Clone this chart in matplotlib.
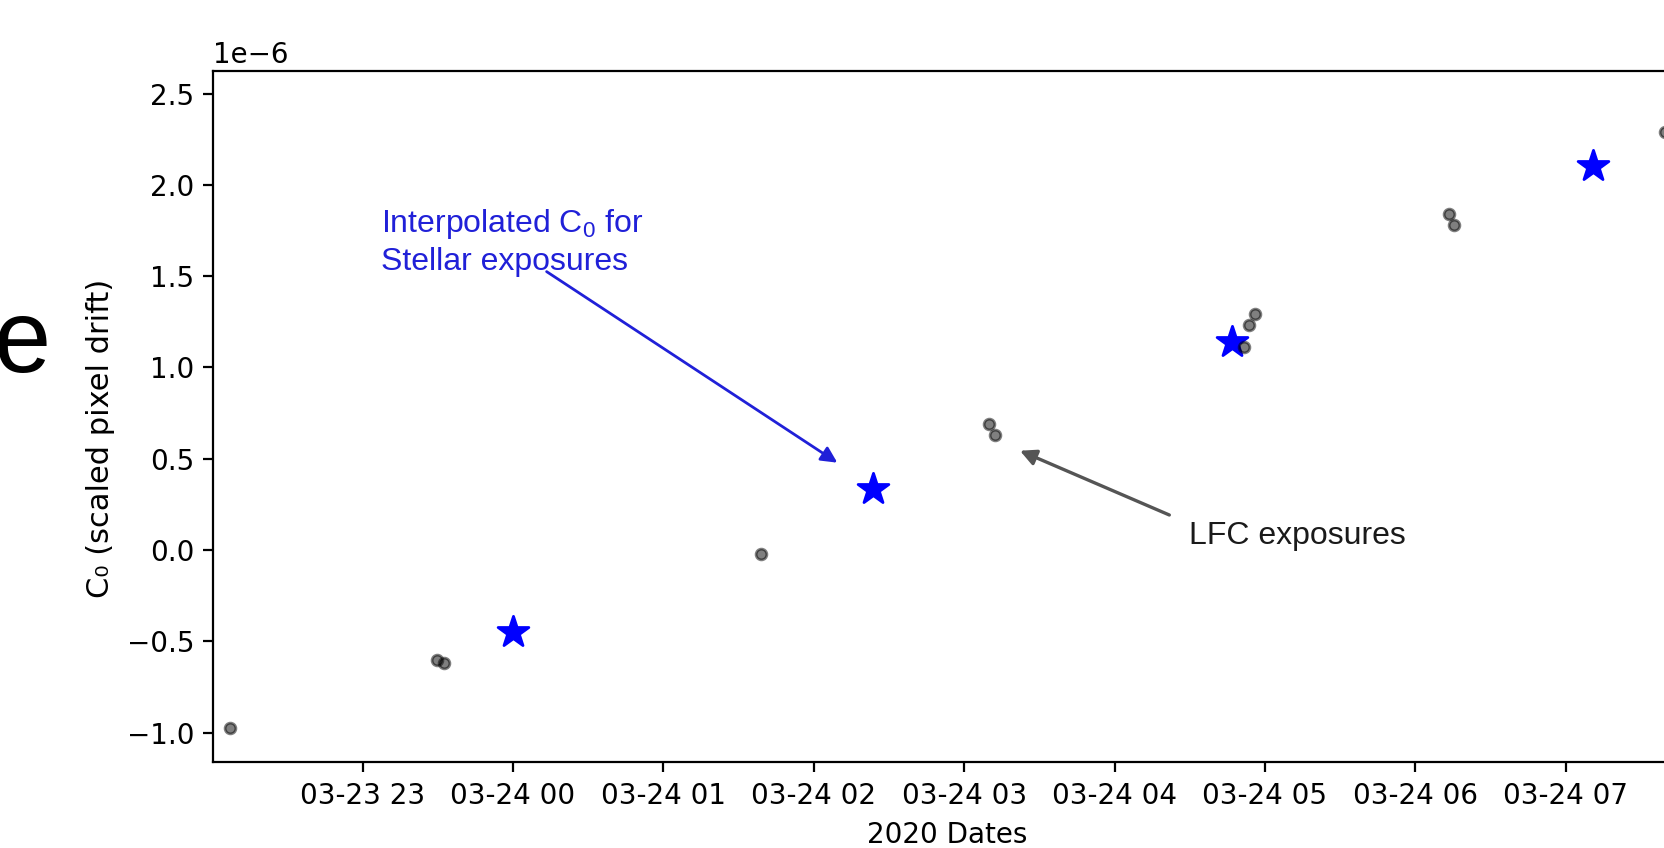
import matplotlib
matplotlib.use("Agg")
import matplotlib.pyplot as plt
import matplotlib.dates as mdates
import pandas as pd

# ---- data (C0 values in units of 1e-6) ----
lfc_times = ["2020-03-23 22:07:00", "2020-03-23 23:29:30", "2020-03-23 23:32:30",
             "2020-03-24 01:39:00", "2020-03-24 03:10:00", "2020-03-24 03:12:30",
             "2020-03-24 04:51:30", "2020-03-24 04:53:40", "2020-03-24 04:56:00",
             "2020-03-24 06:13:20", "2020-03-24 06:15:30", "2020-03-24 07:39:40"]
lfc_c0 = [-0.977, -0.60, -0.62, -0.02, 0.69, 0.63, 1.11, 1.23, 1.29, 1.84, 1.78, 2.29]

star_times = ["2020-03-24 00:00:00", "2020-03-24 02:23:40", "2020-03-24 04:47:00",
              "2020-03-24 07:11:00"]
star_c0 = [-0.448, 0.337, 1.141, 2.103]

x_limits = ["2020-03-23 22:00:30", "2020-03-24 07:46:00"]
y_limits = [-1.163, 2.623]

scale = 1e-6

plt.rcParams["mathtext.fontset"] = "custom"
plt.rcParams["mathtext.rm"] = "Liberation Sans"
plt.rcParams["mathtext.it"] = "Liberation Sans:italic"

fig = plt.figure(figsize=(8.325, 4.24), dpi=200)
ax = fig.add_axes([0.1282, 0.1009, 0.8814, 0.8153])

st = pd.to_datetime(star_times)
lt = pd.to_datetime(lfc_times)
ax.scatter(st, [v * scale for v in star_c0], marker="*", s=135, color="blue", zorder=2)
ax.scatter(lt, [v * scale for v in lfc_c0], s=15, color="k", alpha=0.5, zorder=3)

ax.set_xlim(pd.to_datetime(x_limits[0]), pd.to_datetime(x_limits[1]))
ax.set_ylim(y_limits[0] * scale, y_limits[1] * scale)
ax.xaxis.set_major_locator(mdates.HourLocator())
ax.xaxis.set_major_formatter(mdates.DateFormatter("%m-%d %H"))

ax.set_xlabel("2020 Dates")
ax.set_ylabel("C₀ (scaled pixel drift)", fontsize=11, y=0.4685)

ann_font = "Liberation Sans"
fig.text(0.2287, 0.7268, "Interpolated C$_0$ for", color="#2020d8",
         fontsize=11.5, family=ann_font, va="baseline", ha="left")
fig.text(0.2287, 0.6816, "Stellar exposures", color="#2020d8",
         fontsize=11.5, family=ann_font, va="baseline", ha="left")
ax.annotate("", xy=(0.5029, 0.4544), xytext=(0.3283, 0.6797),
            xycoords="figure fraction", textcoords="figure fraction",
            arrowprops=dict(arrowstyle="-|>", color="#2020d8", lw=1.0,
                            mutation_scale=12, shrinkA=0, shrinkB=0))

fig.text(0.7143, 0.3585, "LFC exposures", color="#1a1a1a",
         fontsize=11.5, family=ann_font, va="baseline", ha="left")
ax.annotate("", xy=(0.6126, 0.4685), xytext=(0.7023, 0.3927),
            xycoords="figure fraction", textcoords="figure fraction",
            arrowprops=dict(arrowstyle="-|>", color="#555555", lw=1.2,
                            mutation_scale=12, shrinkA=0, shrinkB=0))

# fragment of large slide text at the left edge
fig.text(-0.004, 0.5613, "e", fontsize=37, family=ann_font, color="black",
         va="baseline", ha="left")

fig.savefig("out.png", dpi=200)
